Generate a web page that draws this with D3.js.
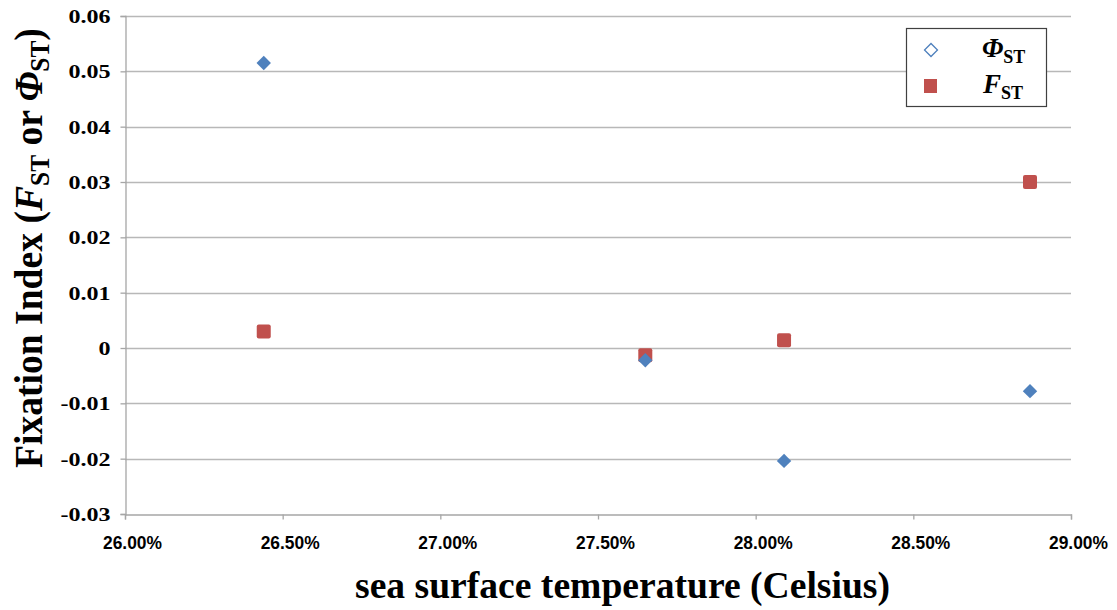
<!DOCTYPE html>
<html>
<head>
<meta charset="utf-8">
<script src="https://cdn.jsdelivr.net/npm/d3@7"></script>
<style>
  html, body { margin: 0; padding: 0; background: #fff; }
  svg { display: block; }
</style>
</head>
<body>
<svg id="chart" width="1117" height="610"></svg>
<script>
// ---- data ----
const sstValues = [0.2644, 0.2765, 0.2809, 0.2887];        // sea surface temperature (shown as %)
const phiST     = [0.0515, -0.0022, -0.0204, -0.0078];     // Φ_ST
const fST       = [0.0030, -0.0013, 0.0014, 0.0300];       // F_ST
const xTicks    = [0.26, 0.265, 0.27, 0.275, 0.28, 0.285, 0.29];
const xTickLabels = ["26.00%", "26.50%", "27.00%", "27.50%", "28.00%", "28.50%", "29.00%"];
const yTicks    = [-0.03, -0.02, -0.01, 0, 0.01, 0.02, 0.03, 0.04, 0.05, 0.06];
const yTickLabels = ["-0.03", "-0.02", "-0.01", "0", "0.01", "0.02", "0.03", "0.04", "0.05", "0.06"];

// ---- layout ----
const svg = d3.select("#chart");
const pLeft = 125, pRight = 1071, pTop = 16, pBottom = 514;
const serif = "'Liberation Serif', 'Times New Roman', serif";
const sans = "'Liberation Sans', Arial, sans-serif";
const blue = "#4F81BD", red = "#C0504D";

const x = d3.scaleLinear().domain([0.26, 0.29]).range([pLeft, pRight]);
const y = d3.scaleLinear().domain([-0.03, 0.06]).range([pBottom, pTop]);

function fitWidth(sel, w) {
  sel.each(function () {
    this.setAttribute("textLength", w);
    this.setAttribute("lengthAdjust", "spacingAndGlyphs");
  });
}

// gridlines
svg.append("g")
  .selectAll("line")
  .data(yTicks.filter(d => d !== -0.03))
  .join("line")
  .attr("x1", pLeft).attr("x2", pRight)
  .attr("y1", d => Math.round(y(d)) + 0.5).attr("y2", d => Math.round(y(d)) + 0.5)
  .attr("stroke", "#B8B8B8").attr("stroke-width", 1.3);

// y axis
const yAxis = svg.append("g")
  .attr("transform", `translate(${pLeft + 0.5},0)`)
  .call(d3.axisLeft(y).tickValues(yTicks).tickSize(5).tickFormat((d, i) => yTickLabels[i]).tickPadding(10));
yAxis.select(".domain").attr("stroke", "#A6A6A6").attr("stroke-width", 1.3);
yAxis.selectAll(".tick line").attr("stroke", "#A6A6A6").attr("stroke-width", 1.3);
yAxis.selectAll(".tick text")
  .attr("font-family", serif).attr("font-weight", "bold").attr("font-size", 18.5)
  .attr("fill", "#000").attr("x", -15).attr("dy", "0.35em")
  .each(function () {
    const w = this.getComputedTextLength();
    this.setAttribute("textLength", w * 1.3);
    this.setAttribute("lengthAdjust", "spacingAndGlyphs");
  });

// x axis
const xAxis = svg.append("g")
  .attr("transform", `translate(0,${pBottom + 0.5})`)
  .call(d3.axisBottom(x).tickValues(xTicks).tickSize(5).tickFormat((d, i) => xTickLabels[i]));
xAxis.select(".domain").attr("stroke", "#A6A6A6").attr("stroke-width", 1.3);
xAxis.selectAll(".tick line").attr("stroke", "#A6A6A6").attr("stroke-width", 1.3);
xAxis.selectAll(".tick text")
  .attr("font-family", sans).attr("font-weight", "bold").attr("font-size", 18.5)
  .attr("fill", "#000").attr("x", 7).attr("y", 34).attr("dy", 0)
  .call(fitWidth, 59);

// F_ST markers (drawn first, underneath)
svg.append("g")
  .selectAll("rect")
  .data(sstValues.map((v, i) => [v, fST[i]]))
  .join("rect")
  .attr("x", d => x(d[0]) - 7).attr("y", d => y(d[1]) - 7)
  .attr("width", 14).attr("height", 14).attr("rx", 2)
  .attr("fill", red);

// Φ_ST markers
const diamond = d3.symbol(d3.symbolSquare, 104);
svg.append("g")
  .selectAll("path")
  .data(sstValues.map((v, i) => [v, phiST[i]]))
  .join("path")
  .attr("d", diamond)
  .attr("transform", d => `translate(${x(d[0])},${y(d[1])}) rotate(45)`)
  .attr("fill", blue);

// legend
const lg = svg.append("g");
lg.append("rect").attr("x", 906.5).attr("y", 28.5).attr("width", 140).attr("height", 78)
  .attr("fill", "#fff").attr("stroke", "#404040").attr("stroke-width", 1.2);
lg.append("path")
  .attr("d", d3.symbol(d3.symbolSquare, 84)())
  .attr("transform", "translate(931,50) rotate(45)")
  .attr("fill", "#fff").attr("stroke", blue).attr("stroke-width", 1.3);
lg.append("rect").attr("x", 924).attr("y", 79).attr("width", 13).attr("height", 14).attr("fill", red);

function subLabel(g, xPos, yPos, main, size, subSize, subDy) {
  const t = g.append("text").attr("x", xPos).attr("y", yPos)
    .attr("font-family", serif).attr("font-weight", "bold").attr("font-size", size).attr("fill", "#000");
  t.append("tspan").attr("font-style", "italic").text(main);
  t.append("tspan").attr("font-size", subSize).attr("dy", subDy).text("ST");
  return t;
}
subLabel(lg, 982, 57, "Φ", 27, 18, 6);
subLabel(lg, 983, 93, "F", 27, 18, 6);

// x axis title
svg.append("text")
  .attr("x", 355).attr("y", 598)
  .attr("font-family", serif).attr("font-weight", "bold").attr("font-size", 38).attr("fill", "#000")
  .text("sea surface temperature (Celsius)")
  .call(fitWidth, 535);

// y axis title
const yt = svg.append("text")
  .attr("font-family", serif).attr("font-weight", "bold").attr("font-size", 40).attr("fill", "#000");
yt.append("tspan").text("Fixation Index (");
yt.append("tspan").attr("font-style", "italic").text("F");
yt.append("tspan").attr("font-size", 27).attr("dy", 7).text("ST");
yt.append("tspan").attr("dy", -7).text(" or ");
yt.append("tspan").attr("font-style", "italic").text("Φ");
yt.append("tspan").attr("font-size", 27).attr("dy", 7).text("ST");
yt.append("tspan").attr("dy", -7).text(")");
const ytw = yt.node().getBBox().width;
yt.attr("transform", `translate(42,468) rotate(-90) scale(${440 / ytw},1)`);
</script>
</body>
</html>
